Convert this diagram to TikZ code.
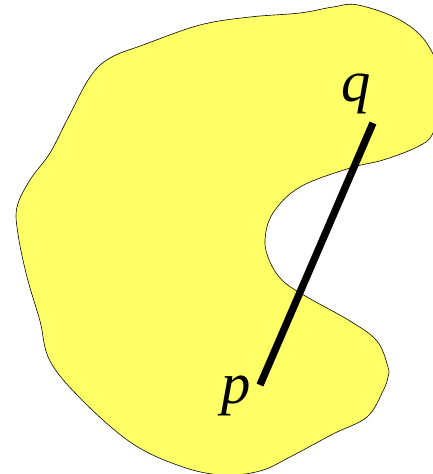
\documentclass[tikz,border=0pt]{standalone}
\usepackage{fontspec}
\setmainfont{Liberation Serif}
\newfontfamily\labfont{Liberation Serif Italic}
\usepackage{tikz}
\definecolor{blobyellow}{RGB}{255,255,102}

\begin{document}
\begin{tikzpicture}[x=0.03cm,y=-0.03cm,
  blob/.style={draw=black,line width=0.5pt,fill=blobyellow},
  seg/.style={line width=0.22cm,line cap=butt},
  lab/.style={font=\labfont\fontsize{50}{60}\selectfont,inner sep=0pt}]
\useasboundingbox (0,0) rectangle (433,474);
\clip (0,0) rectangle (433,474);
% the region
\draw[blob] plot[smooth cycle,tension=0.6] coordinates {
  (90,77) (110,58) (143,45) (200,25) (250,17) (300,13) (333,7) (358,5)
  (400,20) (428,45) (444,90) (433,133) (417,147) (383,160) (350,168)
  (300,187) (273,213) (265,240) (270,262) (283,281) (307,297) (350,321)
  (377,341) (388,367) (388,377) (383,391) (367,417) (333,434) (290,457)
  (260,471) (223,475) (183,467) (133,444) (83,401) (50,361) (40,321)
  (27,277) (18,234) (17,207) (30,180) (50,153) (67,120)};
% the segment
\coordinate (pend) at (260,385);
\coordinate (qend) at (373,123);
\draw[seg] (pend) -- (qend);
\node[lab] (q) at (356,94) {q};
\node[lab] (p) at (236,396) {p};
\end{tikzpicture}
\end{document}
